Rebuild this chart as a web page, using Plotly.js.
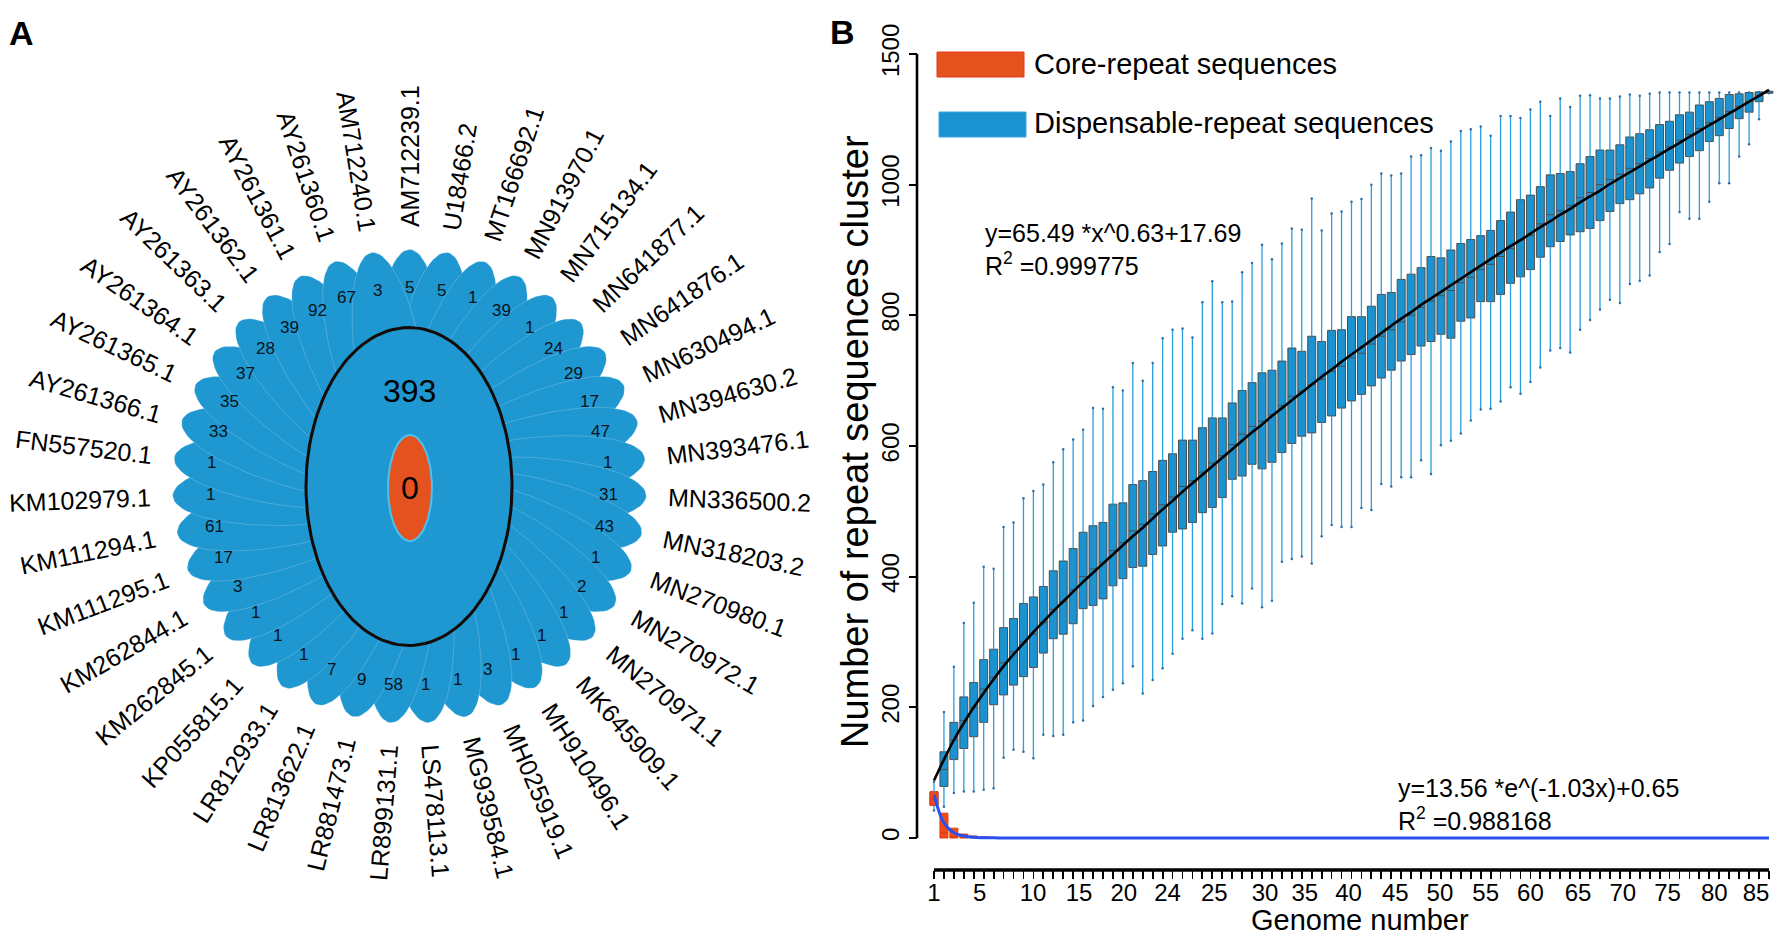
<!DOCTYPE html>
<html><head><meta charset="utf-8">
<script src="https://cdn.plot.ly/plotly-3.0.1.min.js"></script>
<style>html,body{margin:0;padding:0;background:#fff}#chart{width:1776px;height:951px}</style>
</head><body><div id="chart"></div>
<script>
// ---------------- Panel A data (clockwise from top) ----------------
const petalIds = ["AM712239.1","U18466.2","MT166692.1","MN913970.1","MN715134.1","MN641877.1","MN641876.1","MN630494.1","MN394630.2","MN393476.1","MN336500.2","MN318203.2","MN270980.1","MN270972.1","MN270971.1","MK645909.1","MH910496.1","MH025919.1","MG939584.1","LS478113.1","LR899131.1","LR881473.1","LR813622.1","LR812933.1","KP055815.1","KM262845.1","KM262844.1","KM111295.1","KM111294.1","KM102979.1","FN557520.1","AY261366.1","AY261365.1","AY261364.1","AY261363.1","AY261362.1","AY261361.1","AY261360.1","AM712240.1"];
const petalCounts = [5,5,1,39,1,24,29,17,47,1,31,43,1,2,1,1,1,3,1,1,58,9,7,1,1,1,3,17,61,1,1,33,35,37,28,39,92,67,3];
const sharedCount = 393;
const coreCount = 0;

// ---------------- Panel B data ----------------
const genomeNumber = [1,2,3,4,5,6,7,8,9,10,11,12,13,14,15,16,17,18,19,20,21,22,23,24,25,26,27,28,29,30,31,32,33,34,35,36,37,38,39,40,41,42,43,44,45,46,47,48,49,50,51,52,53,54,55,56,57,58,59,60,61,62,63,64,65,66,67,68,69,70,71,72,73,74,75,76,77,78,79,80,81,82,83,84,85];
const panLow = [42,48,69,71,71,74,76,123,135,132, 122,158,156,158,177,180,202,216,227,237, 263,221,242,260,282,305,318,305,313,358, 370,359,382,353,363,423,427,431,420,462, 479,476,476,505,502,542,538,552,552,578, 557,601,608,619,639,656,657,668,690,680, 698,720,746,750,743,778,793,809,824,819, 848,853,861,897,909,958,948,948,974,1002, 1002,1043,1062,1100,1140];
const panQ1 = [50,79,120,137,155,177,204,219,234,247, 261,283,305,312,328,351,356,366,386,397, 414,416,434,447,468,473,483,498,506,521, 549,554,572,565,575,590,604,615,620,636, 646,658,669,679,692,704,716,730,740,753, 760,771,765,791,796,821,821,832,849,859, 870,889,905,913,923,928,933,945,959,971, 977,986,995,1010,1022,1033,1043,1052,1066,1075, 1086,1101,1111,1127,1140];
const panMedian = [60,105,150,180,200,228,246,268,285,300, 312,330,350,362,380,400,412,422,440,452, 470,480,496,510,522,538,547,560,574,585, 602,618,630,638,648,662,676,684,694,702, 714,722,735,742,756,768,778,790,800,812, 822,830,838,850,858,870,878,890,902,915, 922,940,954,960,968,980,988,1000,1008,1016, 1025,1032,1040,1050,1058,1068,1077,1086,1095,1103, 1112,1120,1127,1136,1142];
const panQ3 = [70,132,177,216,238,273,289,322,336,359, 369,385,409,424,443,468,478,483,511,513, 541,547,561,578,588,609,609,628,643,643, 666,685,697,712,716,730,750,745,768,760, 777,778,798,798,814,832,835,855,863,873, 890,888,900,910,916,922,930,945,958,977, 984,997,1015,1017,1020,1032,1043,1053,1053,1061, 1073,1078,1084,1092,1097,1107,1111,1122,1127,1132, 1138,1139,1141,1142,1143];
const panHigh = [86,193,262,329,360,415,412,476,483,520, 531,541,575,595,610,625,658,657,690,685, 727,700,727,765,778,780,766,820,852,820, 821,866,880,908,886,910,933,931,979,930, 956,959,974,978,1000,1017,1014,1017,1043,1045, 1056,1052,1066,1082,1085,1089,1075,1105,1105,1102, 1115,1127,1105,1132,1119,1136,1137,1132,1132,1135, 1138,1136,1139,1141,1141,1141,1141,1141,1141,1141, 1141,1141,1141,1142,1143];
const panFit = [88,120,150,176,200,222,243,263,281,298, 315,331,347,362,377,392,406,420,434,448, 462,475,489,503,516,530,543,556,569,582, 595,608,621,633,646,658,670,682,694,706, 717,729,740,751,762,773,784,795,805,816, 826,836,846,856,866,876,886,896,906,915, 925,935,944,954,963,973,982,991,1001,1010, 1019,1028,1037,1046,1055,1064,1073,1082,1091,1100, 1109,1118,1127,1136,1145];
const coreGenome = [1,2,3,4,5,6,7];
const coreQ1 = [50,0,0,0,0,0,0];
const coreMedian = [60,8,2,1,0,0,0];
const coreQ3 = [71,38,15,6,3,2,1];
const coreFit = [66,23,8,3,1,0.4,0.2,0.1,0,0, 0,0,0,0,0,0,0,0,0,0, 0,0,0,0,0,0,0,0,0,0, 0,0,0,0,0,0,0,0,0,0, 0,0,0,0,0,0,0,0,0,0, 0,0,0,0,0,0,0,0,0,0, 0,0,0,0,0,0,0,0,0,0, 0,0,0,0,0,0,0,0,0,0, 0,0,0,0,0];
const yTickVals = [0,200,400,600,800,1000,1200];
const yTickText = ["0","200","400","600","800","1000","1500"];
const xTickPos = [1,5.6,10.97,15.6,20.1,24.5,29.2,34.3,38.3,42.7,47.4,51.9,56.5,61.0,65.8,70.3,74.8,79.5,83.7];
const xTickText = ["1","5","10","15","20","24","25","30","35","40","45","50","55","60","65","70","75","80","85"];

// ---------------- drawing ----------------
const W = 1776, H = 951;
const FONT = '"Liberation Sans", Arial, Helvetica, sans-serif';
const px = x => x / W, py = y => 1 - y / H;
const BLUE = '#1f97d0', ORANGE = '#e4531f';

const traces = [];
const annotations = [];
const shapes = [];

// Panel A flower (axes x2/y2 are in pixel units, y downward)
const cx = 409.5, cy = 486.5;
const nP = petalIds.length;
const petalCenterR = 117, petalA = 120, petalB = 34;
for (let i = 0; i < nP; i++) {
  const th = (90 - i * 360 / nP) * Math.PI / 180;
  const xs = [], ys = [];
  for (let k = 0; k <= 80; k++) {
    const t = k / 80 * 2 * Math.PI;
    const u = petalCenterR + petalA * Math.cos(t), v = petalB * Math.sin(t);
    xs.push(cx + u * Math.cos(th) - v * Math.sin(th));
    ys.push(cy - (u * Math.sin(th) + v * Math.cos(th)));
  }
  traces.push({type:'scatter', mode:'lines', x:xs, y:ys, xaxis:'x2', yaxis:'y2', fill:'toself',
    fillcolor:BLUE, line:{color:'rgba(220,238,248,0.3)', width:0.8}, hoverinfo:'skip'});
}
function ellipse(ex, ey, rx, ry, fill, lc, lw) {
  const xs = [], ys = [];
  for (let k = 0; k <= 120; k++) { const t = k / 120 * 2 * Math.PI; xs.push(ex + rx * Math.cos(t)); ys.push(ey + ry * Math.sin(t)); }
  traces.push({type:'scatter', mode:'lines', x:xs, y:ys, xaxis:'x2', yaxis:'y2', fill:'toself', fillcolor:fill,
    line:{color:lc, width:lw}, hoverinfo:'skip'});
}
ellipse(cx - 0.5, cy, 103, 159, BLUE, '#140a06', 3);
ellipse(cx + 0.5, cy + 1.5, 22, 53, ORANGE, '#4cc0f0', 2);

annotations.push({xref:'x2', yref:'y2', x:cx, y:cy - 96, text:String(sharedCount), showarrow:false,
  font:{family:FONT, size:32, color:'#000'}, xanchor:'center', yanchor:'middle'});
annotations.push({xref:'x2', yref:'y2', x:cx + 0.5, y:cy + 1.5, text:String(coreCount), showarrow:false,
  font:{family:FONT, size:32, color:'#000'}, xanchor:'center', yanchor:'middle'});

const ctx = document.createElement('canvas').getContext('2d');
ctx.font = '25px "Liberation Sans"';
for (let i = 0; i < nP; i++) {
  const thDeg = 90 - i * 360 / nP;
  const th = thDeg * Math.PI / 180;
  const rc = 199;
  annotations.push({xref:'x2', yref:'y2', x:cx + rc * Math.cos(th), y:cy - rc * Math.sin(th), text:String(petalCounts[i]),
    showarrow:false, font:{family:FONT, size:17, color:'#08131c'}, xanchor:'center', yanchor:'middle'});
  const w = ctx.measureText(petalIds[i]).width;
  const rl = 259 + w / 2;
  let ang = Math.cos(th) >= -1e-6 ? -thDeg : 180 - thDeg;
  while (ang > 180) ang -= 360; while (ang < -180) ang += 360;
  annotations.push({xref:'x2', yref:'y2', x:cx + rl * Math.cos(th), y:cy - rl * Math.sin(th), text:petalIds[i],
    showarrow:false, textangle:ang, font:{family:FONT, size:25, color:'#000'}, xanchor:'center', yanchor:'middle'});
}

// Panel B
traces.push({type:'box', x:genomeNumber, q1:panQ1, median:panMedian, q3:panQ3, lowerfence:panQ1, upperfence:panQ3,
  width:0.8, fillcolor:'#1b93d1', line:{color:'#4d4d4d', width:1}, whiskerwidth:0, boxpoints:false, hoverinfo:'skip',
  xaxis:'x', yaxis:'y', name:'Dispensable-repeat sequences'});
const wx = [], wy = [], capx = [], capy = [];
for (let i = 0; i < genomeNumber.length; i++) {
  const g = genomeNumber[i];
  wx.push(g, g, null, g, g, null); wy.push(panLow[i], panQ1[i], null, panQ3[i], panHigh[i], null);
  capx.push(g, g); capy.push(panLow[i], panHigh[i]);
}
traces.push({type:'scatter', mode:'lines', x:wx, y:wy, line:{color:'#2a9ddb', width:1.3}, hoverinfo:'skip', xaxis:'x', yaxis:'y'});
traces.push({type:'scatter', mode:'markers', x:capx, y:capy, marker:{color:'#2f6ea3', size:2.5}, hoverinfo:'skip', xaxis:'x', yaxis:'y'});
traces.push({type:'box', x:coreGenome, q1:coreQ1, median:coreMedian, q3:coreQ3, lowerfence:coreQ1, upperfence:coreQ3,
  width:0.8, fillcolor:'#ef4a17', line:{color:'#e0380e', width:1}, whiskerwidth:0, boxpoints:false, hoverinfo:'skip',
  xaxis:'x', yaxis:'y', name:'Core-repeat sequences'});
traces.push({type:'scatter', mode:'lines', x:genomeNumber, y:panFit, line:{color:'#000', width:2.6, shape:'spline'}, hoverinfo:'skip', xaxis:'x', yaxis:'y'});
traces.push({type:'scatter', mode:'lines', x:genomeNumber, y:coreFit, line:{color:'#2a4ff0', width:3, shape:'spline'}, hoverinfo:'skip', xaxis:'x', yaxis:'y'});

// Axis geometry (pixels)
const yAxisPx = 917, xAxisPx = 870, y0px = 838, y1200px = 54;
const pxPerY = (y0px - y1200px) / 1200;
const plotTopPx = 40;
const xLeftPx = 926, pxPerX = 9.94, x1px = 934;
const xRange = [1 - (x1px - xLeftPx) / pxPerX, 1 + (W - x1px) / pxPerX];
const yRange = [(y0px - xAxisPx) / pxPerY, (y0px - plotTopPx) / pxPerY];

shapes.push({type:'line', xref:'paper', yref:'y', x0:px(yAxisPx), x1:px(yAxisPx), y0:0, y1:1200, line:{color:'#000', width:2.6}});
shapes.push({type:'line', xref:'x', yref:'paper', x0:1, x1:85, y0:py(xAxisPx), y1:py(xAxisPx), line:{color:'#000', width:3.5}});
shapes.push({type:'rect', xref:'paper', yref:'paper', x0:px(937), x1:px(1024), y0:py(77), y1:py(52), fillcolor:'#e4521e', line:{color:'#e8361a', width:1}});
shapes.push({type:'rect', xref:'paper', yref:'paper', x0:px(939), x1:px(1026), y0:py(137), y1:py(112), fillcolor:'#1b93d1', line:{color:'#3aa5e0', width:1}});

function ptxt(x, y, text, size, opts) {
  annotations.push(Object.assign({xref:'paper', yref:'paper', x:px(x), y:py(y), text:text, showarrow:false,
    font:{family:FONT, size:size, color:'#000'}, xanchor:'left', yanchor:'middle'}, opts || {}));
}
ptxt(1032, 64, 'Core-repeat sequences', 29);
ptxt(1032, 123, 'Dispensable-repeat sequences', 29);
ptxt(983, 233, 'y=65.49 *x^0.63+17.69', 25);
ptxt(983, 264, 'R<sup>2</sup> =0.999775', 25);
ptxt(1396, 788, 'y=13.56 *e^(-1.03x)+0.65', 25);
ptxt(1396, 819, 'R<sup>2</sup> =0.988168', 25);
ptxt(855, 442, 'Number of repeat sequences cluster', 38, {xanchor:'center', textangle:-90});
ptxt(1360, 920, 'Genome number', 29, {xanchor:'center'});
ptxt(21, 33, '<b>A</b>', 34, {xanchor:'center'});
ptxt(842, 32, '<b>B</b>', 34, {xanchor:'center'});

const layout = {
  width:W, height:H, margin:{l:0, r:0, t:0, b:0}, paper_bgcolor:'#fff', plot_bgcolor:'rgba(0,0,0,0)',
  showlegend:false, boxmode:'overlay', hovermode:false,
  xaxis:{domain:[px(xLeftPx), 1], range:xRange, anchor:'y', showgrid:false, zeroline:false, showline:false,
    tickmode:'array', tickvals:xTickPos, ticktext:xTickText, ticks:'outside', ticklen:1, tickcolor:'rgba(0,0,0,0)',
    tickfont:{family:FONT, size:24, color:'#000'},
    minor:{tickmode:'linear', tick0:1, dtick:1, ticks:'outside', ticklen:8, tickwidth:1.8, tickcolor:'#000', showgrid:false}},
  yaxis:{domain:[py(xAxisPx), py(plotTopPx)], range:yRange, anchor:'free', position:px(yAxisPx), showgrid:false,
    zeroline:false, showline:false, tickmode:'array', tickvals:yTickVals, ticktext:yTickText, tickangle:-90,
    ticks:'outside', ticklen:8, tickwidth:2.2, tickcolor:'#000', tickfont:{family:FONT, size:24, color:'#000'}},
  xaxis2:{domain:[0, 820 / W], range:[0, 820], anchor:'y2', visible:false, fixedrange:true},
  yaxis2:{domain:[0, 1], range:[H, 0], anchor:'x2', visible:false, fixedrange:true},
  shapes:shapes, annotations:annotations
};
Plotly.newPlot('chart', traces, layout, {staticPlot:true, displayModeBar:false});
</script></body></html>
